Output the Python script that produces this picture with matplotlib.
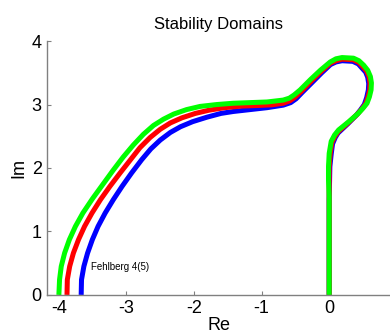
import numpy as np
import matplotlib
matplotlib.use('Agg')
import matplotlib.pyplot as plt

plt.rcParams['font.family'] = ['Liberation Sans', 'DejaVu Sans']

blue_re = [-3.67, -3.665, -3.63, -3.575, -3.505, -3.42, -3.315, -3.195, -3.065, -2.925, -2.775,
           -2.64, -2.50, -2.35, -2.20, -2.02, -1.81, -1.60, -1.42, -1.17, -0.92,
           -0.68, -0.57, -0.49, -0.40, -0.25, -0.11, 0.02, 0.10, 0.19, 0.35, 0.43, 0.48, 0.54,
           0.57, 0.585, 0.58, 0.555, 0.52, 0.46, 0.40,
           0.27, 0.13, 0.09, 0.05, 0.03, 0.01, 0.0, 0.0]
blue_im = [0.0, 0.24, 0.45, 0.66, 0.87, 1.08, 1.29, 1.50, 1.71, 1.92, 2.13,
           2.30, 2.44, 2.56, 2.65, 2.73, 2.80, 2.86, 2.89, 2.92, 2.95,
           2.99, 3.03, 3.09, 3.19, 3.35, 3.50, 3.63, 3.67, 3.69, 3.68, 3.64, 3.58, 3.51,
           3.43, 3.33, 3.23, 3.11, 3.00, 2.91, 2.83,
           2.69, 2.55, 2.48, 2.38, 2.22, 2.02, 1.50, 0.0]

red_re = [-3.88, -3.875, -3.84, -3.785, -3.71, -3.62, -3.51, -3.385, -3.245, -3.095, -2.94,
          -2.80, -2.65, -2.50, -2.35, -2.18, -1.98, -1.78, -1.55, -1.30, -1.05, -0.85,
          -0.68, -0.58, -0.50, -0.41, -0.265, -0.12, 0.017, 0.10, 0.19, 0.355, 0.435, 0.495, 0.555,
          0.59, 0.605, 0.60, 0.575, 0.54, 0.48,
          0.415, 0.28, 0.135, 0.085, 0.04, 0.015, 0.0, 0.0, 0.0]
red_im = [0.0, 0.24, 0.45, 0.66, 0.87, 1.08, 1.29, 1.50, 1.71, 1.92, 2.13,
          2.32, 2.48, 2.61, 2.71, 2.79, 2.86, 2.91, 2.95, 2.975, 2.985, 2.995,
          3.02, 3.06, 3.12, 3.21, 3.37, 3.52, 3.65, 3.69, 3.715, 3.705, 3.665, 3.60, 3.525,
          3.435, 3.335, 3.23, 3.12, 3.01, 2.925,
          2.845, 2.71, 2.575, 2.50, 2.40, 2.225, 2.02, 1.50, 0.0]

green_re = [-4.0, -3.99, -3.965, -3.915, -3.845, -3.755, -3.645, -3.50, -3.35, -3.20, -3.05,
            -2.90, -2.75, -2.60, -2.45, -2.30, -2.11, -1.91, -1.66, -1.42, -1.17, -0.92,
            -0.68, -0.59, -0.52, -0.43, -0.28, -0.13, 0.015, 0.10, 0.19, 0.36, 0.44, 0.51, 0.57,
            0.61, 0.625, 0.62, 0.595, 0.56, 0.50,
            0.43, 0.29, 0.14, 0.08, 0.03, 0.0, -0.01, -0.01, 0.0, 0.0]
green_im = [0.0, 0.24, 0.45, 0.66, 0.87, 1.08, 1.29, 1.52, 1.74, 1.96, 2.17,
            2.36, 2.53, 2.67, 2.77, 2.85, 2.92, 2.97, 3.00, 3.02, 3.03, 3.04,
            3.07, 3.10, 3.15, 3.23, 3.39, 3.54, 3.67, 3.72, 3.74, 3.73, 3.69, 3.62, 3.54,
            3.44, 3.34, 3.23, 3.12, 3.02, 2.94,
            2.86, 2.73, 2.60, 2.52, 2.42, 2.23, 2.02, 1.81, 1.55, 0.0]

xticks = [-4, -3, -2, -1, 0]
yticks = [0, 1, 2, 3, 4]

fig = plt.figure(figsize=(3.9, 3.31), dpi=100)
ax = fig.add_axes([0.1215, 0.109, 0.8785, 0.767])

for xs, ys, c in [(blue_re, blue_im, '#0000ff'), (red_re, red_im, '#ff0000'), (green_re, green_im, '#00ff00')]:
    ax.plot(xs, ys, color=c, lw=3.6, solid_joinstyle='round', solid_capstyle='butt')

ax.text(-3.53, 0.44, 'Fehlberg 4(5)', fontsize=7, va='center', ha='left')

ax.set_xlim(-4.17, 0.9)
ax.set_ylim(0, 4)
ax.set_xticks(xticks)
ax.set_yticks(yticks)
ax.set_xticklabels(['-4', '-3', '-2', '-1', '0'])
ax.tick_params(direction='in', length=3, width=0.8, color='#808080', labelsize=13, pad=4)
for s in ['top', 'right']:
    ax.spines[s].set_visible(False)
for s in ['left', 'bottom']:
    ax.spines[s].set_color('#808080')
    ax.spines[s].set_linewidth(1.0)

ax.set_title('Stability Domains', fontsize=12, pad=9)
ax.set_xlabel('Re', fontsize=13, labelpad=0)
ax.set_ylabel('Im', fontsize=13, labelpad=3)

fig.savefig('out.png', dpi=100)
